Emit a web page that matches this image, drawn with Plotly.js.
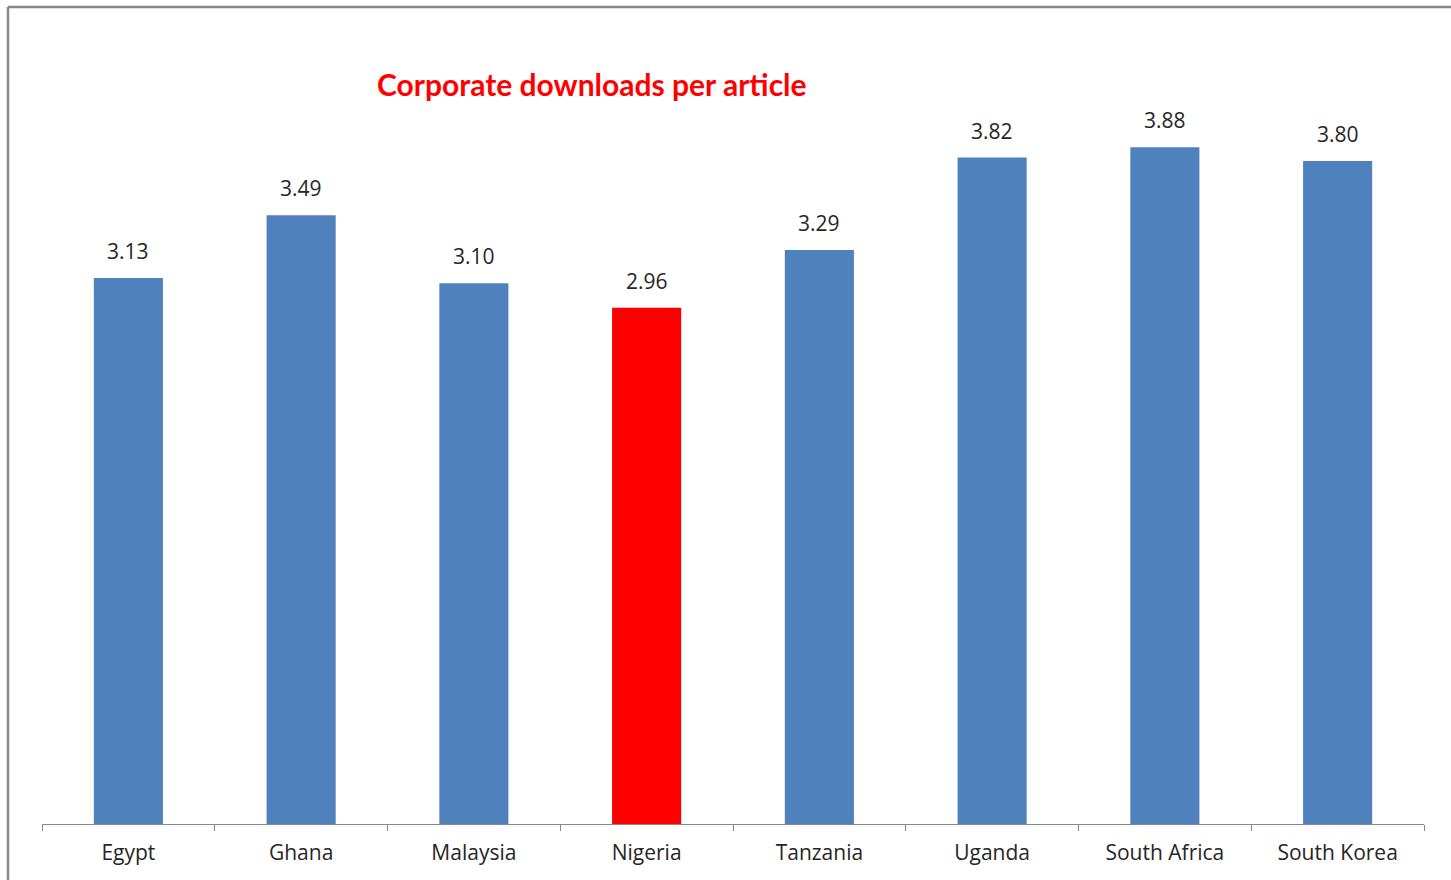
<!DOCTYPE html>
<html>
<head>
<meta charset="utf-8">
<script src="https://cdn.plot.ly/plotly-3.0.1.min.js"></script>
<style>
html,body{margin:0;padding:0;background:#fff;overflow:hidden;}
#chart{width:1451px;height:880px;}
</style>
</head>
<body>
<div id="chart"></div>
<script>
const countries = ["Egypt","Ghana","Malaysia","Nigeria","Tanzania","Uganda","South Africa","South Korea"];
const downloadsPerArticle = [3.13, 3.49, 3.10, 2.96, 3.29, 3.82, 3.88, 3.80];
const highlightCountry = "Nigeria";
const chartTitle = "Corporate downloads per article";

const barColors = countries.map(c => c === highlightCountry ? "#FF0000" : "#4F81BD");
const FONT = "'Open Sans', Lato, sans-serif";
const TITLE_FONT = "Lato, 'Open Sans', sans-serif";

const valueAnnotations = countries.map((c, i) => ({
  x: c, y: downloadsPerArticle[i], xref: "x", yref: "y",
  text: downloadsPerArticle[i].toFixed(2),
  showarrow: false, yanchor: "bottom", yshift: 11,
  font: {family: FONT, size: 21, color: "#262626"}
}));

const trace = {
  type: "bar",
  x: countries,
  y: downloadsPerArticle,
  marker: {color: barColors, line: {width: 0}},
  width: 0.4,
  hoverinfo: "x+y"
};

const layout = {
  width: 1451, height: 880,
  margin: {l: 42, r: 27, t: 39, b: 56},
  paper_bgcolor: "#fff", plot_bgcolor: "#fff",
  showlegend: false,
  xaxis: {
    type: "category",
    showline: true, linecolor: "#888888", linewidth: 1,
    ticks: "outside", tickson: "boundaries", ticklen: 6, tickcolor: "#888888",
    showgrid: false, zeroline: false,
    tickfont: {family: FONT, size: 21, color: "#262626"},
    ticklabelstandoff: 10
  },
  yaxis: {
    range: [0, 4.5], visible: false, showgrid: false, zeroline: false, fixedrange: true
  },
  annotations: valueAnnotations.concat([{
    text: "<b>" + chartTitle + "</b>",
    xref: "paper", yref: "paper", x: 0.398, y: 0.943,
    xanchor: "center", yanchor: "middle", showarrow: false,
    font: {family: TITLE_FONT, size: 30, color: "#FF0000"}
  }]),
  shapes: [
    {type: "line", xref: "paper", yref: "paper", x0: -0.0246, x1: -0.0246, y0: -0.1, y1: 1.0408,
     line: {color: "#888888", width: 2.5}},
    {type: "line", xref: "paper", yref: "paper", x0: -0.0246, x1: 1.1, y0: 1.0408, y1: 1.0408,
     line: {color: "#888888", width: 2.5}}
  ]
};

Plotly.newPlot("chart", [trace], layout, {displayModeBar: false, staticPlot: true});
</script>
</body>
</html>
